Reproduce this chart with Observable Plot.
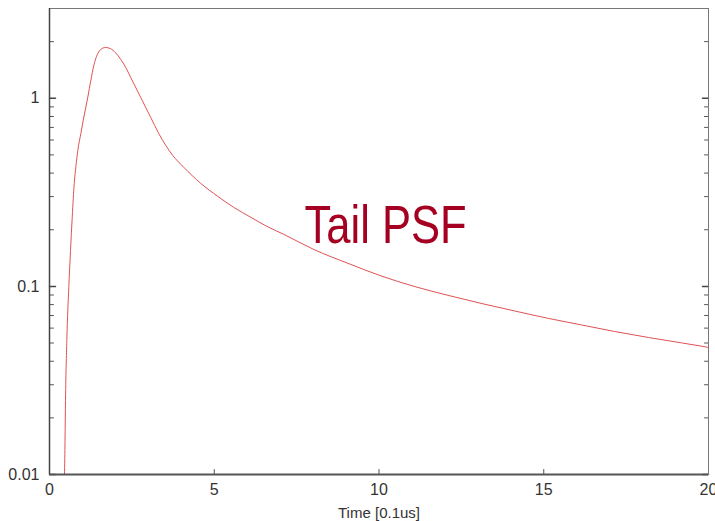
<!DOCTYPE html>
<html>
<head>
<meta charset="utf-8">
<script src="https://cdn.jsdelivr.net/npm/d3@7"></script>
<script src="https://cdn.jsdelivr.net/npm/@observablehq/plot@0.6"></script>
<style>
  html, body { margin: 0; padding: 0; background: #fff; }
  #chart svg { display: block; }
</style>
</head>
<body>
<div id="chart"></div>
<script>
// Time axis [0.1 us] and PSF amplitude
const times = [0.441, 0.456, 0.471, 0.486, 0.526, 0.587, 0.638, 0.690, 0.751, 0.805, 0.860, 0.951, 1.043, 1.164, 1.255, 1.347, 1.429, 1.520, 1.611, 1.702, 1.854, 2.006, 2.158, 2.310, 2.462, 2.766, 3.070, 3.313, 3.526, 3.739, 4.073, 4.590, 5.106, 5.593, 6.109, 6.596, 7.112, 8.024, 9.058, 10.06, 11.064, 12.097, 13.10, 14.103, 15.137, 16.14, 17.143, 18.176, 19.18, 20.0];
const psf   = [0.0082, 0.0100, 0.0152, 0.0248, 0.0516, 0.100, 0.155, 0.2336, 0.353, 0.440, 0.529, 0.649, 0.795, 1.016, 1.247, 1.498, 1.673, 1.789, 1.845, 1.861, 1.834, 1.746, 1.612, 1.462, 1.293, 1.012, 0.792, 0.651, 0.562, 0.497, 0.430, 0.353, 0.301, 0.263, 0.233, 0.2085, 0.189, 0.157, 0.1326, 0.1137, 0.1000, 0.0896, 0.0812, 0.0741, 0.0676, 0.0624, 0.0576, 0.0535, 0.0501, 0.0474];
const xTickValues = [0, 5, 10, 15, 20];
const xInnerTicks = [5, 10, 15];
const yMajorTicks = [0.01, 0.1, 1];
const yMinorTicks = [0.02, 0.03, 0.04, 0.05, 0.06, 0.07, 0.08, 0.09, 0.2, 0.3, 0.4, 0.5, 0.6, 0.7, 0.8, 0.9, 2];
const yTickLabels = ["0.01", "0.1", "1"];
const xLabel = "Time [0.1us]";
const annotation = "Tail PSF";

const data = times.map((t, i) => ({t, v: psf[i]}));
const font = "'Liberation Sans Narrow', 'Liberation Sans', Arial, sans-serif";
const [xMin, xMax] = [0, 20];
const [yMin, yMax] = [0.01, 3];

// a plain straight tick shape for vector marks
const tickShape = {draw(context, l) { context.moveTo(0, 0); context.lineTo(0, -l); }};
const tickMark = (values, opts) => Plot.vector(values, {anchor: "start", shape: tickShape, ...opts});

const chart = Plot.plot({
  width: 715,
  height: 521,
  marginLeft: 49,
  marginRight: 7,
  marginTop: 8,
  marginBottom: 47,
  style: {fontFamily: font, background: "#fff", color: "#333"},
  x: {type: "linear", domain: [xMin, xMax]},
  y: {type: "log", domain: [yMin, yMax]},
  marks: [
    Plot.line(data, {x: "t", y: "v", stroke: "#e05252", strokeWidth: 1, curve: "monotone-x", clip: true}),
    // tick labels
    Plot.axisY({anchor: "left", ticks: yMajorTicks, tickSize: 0, tickPadding: 10,
      tickFormat: d => yTickLabels[yMajorTicks.indexOf(d)], fontSize: 16, fill: "#333", label: null}),
    Plot.axisX({anchor: "bottom", ticks: xTickValues, tickSize: 0, tickPadding: 9,
      tickFormat: d => String(d), fontSize: 16, fill: "#333", label: null}),
    // inward ticks: left, right, bottom
    tickMark(yMajorTicks, {x: () => xMin, y: d => d, rotate: 90, length: 6, stroke: "#444", strokeWidth: 1.5}),
    tickMark(yMinorTicks, {x: () => xMin, y: d => d, rotate: 90, length: 4, stroke: "#555", strokeWidth: 1}),
    tickMark(yMajorTicks, {x: () => xMax, y: d => d, rotate: -90, length: 6, stroke: "#444", strokeWidth: 1.5}),
    tickMark(yMinorTicks, {x: () => xMax, y: d => d, rotate: -90, length: 4, stroke: "#555", strokeWidth: 1}),
    tickMark(xInnerTicks, {x: d => d, y: () => yMin, rotate: 0, length: 5, stroke: "#555", strokeWidth: 1}),
    // frame
    Plot.frame({stroke: "#777", strokeWidth: 1}),
    Plot.ruleX([xMin], {stroke: "#444", strokeWidth: 1.5}),
    Plot.ruleY([yMin], {stroke: "#555", strokeWidth: 2}),
    // x label
    Plot.text([xLabel], {frameAnchor: "bottom", dy: 43, lineAnchor: "bottom", fontSize: 15, fill: "#333"}),
    // annotation
    Plot.text([annotation], {x: 10.2, y: 0.171, lineAnchor: "bottom", textAnchor: "middle",
      fontSize: 53, fill: "#a50021", fontFamily: "'Liberation Sans', Arial, sans-serif", className: "anno"})
  ]
});
document.getElementById("chart").appendChild(chart);
// condense the annotation to the reference width
chart.querySelectorAll("g.anno text").forEach(t => {
  t.setAttribute("textLength", 162);
  t.setAttribute("lengthAdjust", "spacingAndGlyphs");
});
</script>
</body>
</html>
